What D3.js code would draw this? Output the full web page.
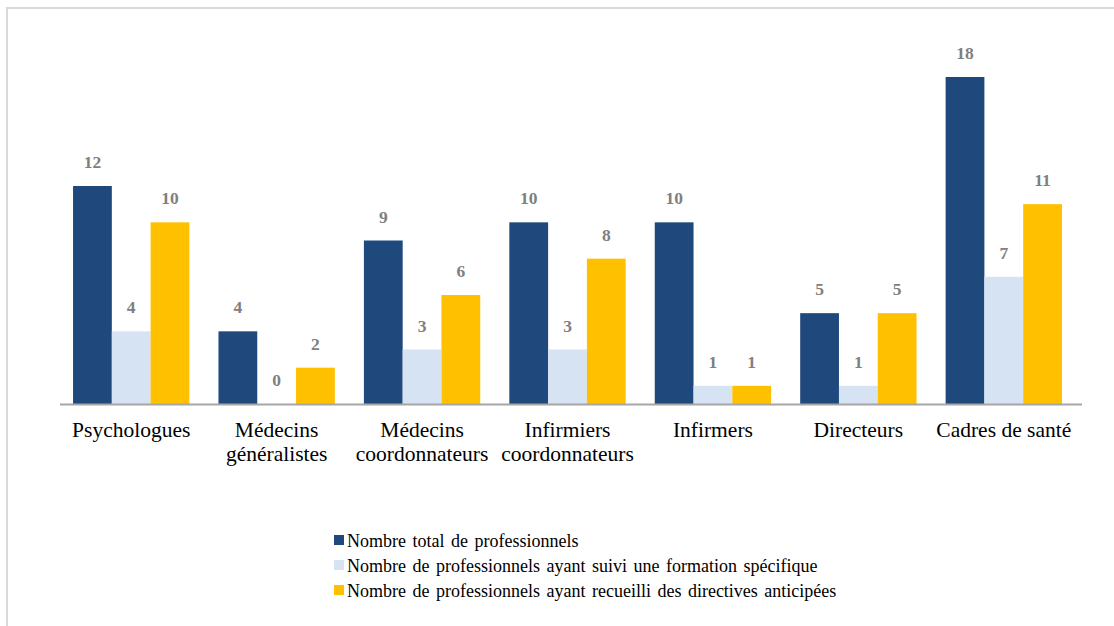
<!DOCTYPE html>
<html><head><meta charset="utf-8">
<script src="https://cdn.jsdelivr.net/npm/d3@7"></script>
</head><body>
<script>
const categories = [["Psychologues"],["Médecins","généralistes"],["Médecins","coordonnateurs"],["Infirmiers","coordonnateurs"],["Infirmers"],["Directeurs"],["Cadres de santé"]];
const seriesNames = ["Nombre total de professionnels","Nombre de professionnels ayant suivi une formation spécifique","Nombre de professionnels ayant recueilli des directives anticipées"];
const totalPros = [12,4,9,10,10,5,18];
const trainedPros = [4,0,3,3,1,1,7];
const directivesPros = [10,2,6,8,1,5,11];
const colors = ["#1f497d","#d6e3f3","#ffc000"];
const FONT = '"Liberation Serif", "Times New Roman", serif';

const W=1114,H=626;
const svg=d3.select("body").append("svg").attr("width",W).attr("height",H)
  .style("position","absolute").style("left","0px").style("top","0px").style("background","#fff");
svg.append("rect").attr("x",7).attr("y",8).attr("width",W).attr("height",H).attr("fill","none").attr("stroke","#d9d9d9").attr("stroke-width",2);

const series=[totalPros,trainedPros,directivesPros];
const idx=d3.range(categories.length);
const x0=d3.scaleBand().domain(idx).range([58.5,1076.5]).paddingInner(0.2).paddingOuter(0.1);
const x1=d3.scaleBand().domain([0,1,2]).range([0,x0.bandwidth()]);
const y=d3.scaleLinear().domain([0,18]).range([404,77]);

const g=svg.append("g");
idx.forEach(i=>{
  series.forEach((s,j)=>{
    const v=s[i];
    const bx=x0(i)+x1(j);
    g.append("rect").attr("x",bx).attr("y",y(v)).attr("width",x1.bandwidth()).attr("height",y(0)-y(v)).attr("fill",colors[j]);
    g.append("text").attr("x",bx+x1.bandwidth()/2).attr("y",y(v)-18).attr("text-anchor","middle")
      .style("font-family",FONT).style("font-weight","bold").attr("font-size",17.5).attr("fill","#7f7f7f").text(v);
  });
});
svg.append("line").attr("x1",60).attr("x2",1082).attr("y1",y(0)+0.5).attr("y2",y(0)+0.5).attr("stroke","#a6a6a6").attr("stroke-width",2);

idx.forEach(i=>{
  const t=svg.append("text").attr("text-anchor","middle").style("font-family",FONT).attr("font-size",21.5).attr("fill","#000");
  categories[i].forEach((line,k)=>{
    t.append("tspan").attr("x",x0(i)+x0.bandwidth()/2).attr("y",437+k*24).text(line);
  });
});

const leg=svg.append("g");
seriesNames.forEach((n,j)=>{
  const ly=541+j*25;
  leg.append("rect").attr("x",334).attr("y",ly-6).attr("width",10).attr("height",10).attr("fill",colors[j]);
  leg.append("text").attr("x",347).attr("y",ly+6).style("font-family",FONT).style("word-spacing","2px").attr("font-size",18).attr("fill","#000").text(n);
});
</script>
</body></html>
